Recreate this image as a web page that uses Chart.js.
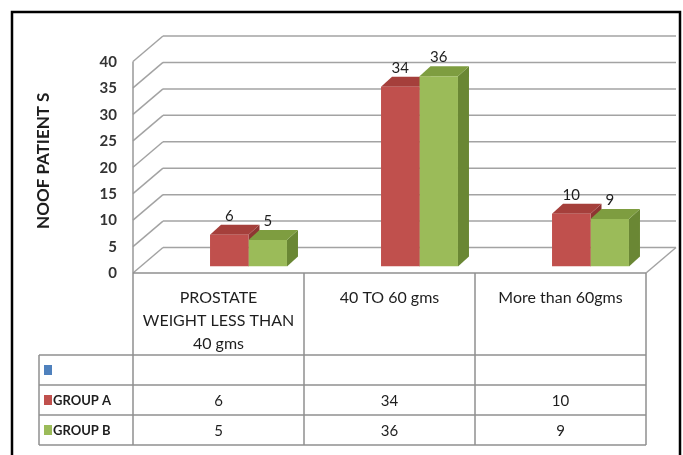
<!DOCTYPE html>
<html>
<head>
<meta charset="utf-8">
<script src="https://cdn.jsdelivr.net/npm/chart.js@4.4.1/dist/chart.umd.min.js"></script>
<style>
  html, body { margin: 0; padding: 0; background: #fff; }
  #wrap { width: 683px; height: 455px; }
</style>
</head>
<body>
<div id="wrap"><canvas id="c" width="683" height="455"></canvas></div>
<script>
// data
const categories = [['PROSTATE', 'WEIGHT LESS THAN', '40 gms'], ['40 TO 60 gms'], ['More than 60gms']];
const seriesNames = ['GROUP A', 'GROUP B'];
const groupA = [6, 34, 10];
const groupB = [5, 36, 9];
const yTickValues = [0, 5, 10, 15, 20, 25, 30, 35, 40];
const yTitle = 'NOOF PATIENT S';

const FONT = 'Lato, "Open Sans", sans-serif';
const TEXT = '#1e1e1e';
const colors = {
    red:   { front: '#c0504d', top: '#a53f3b', side: '#8e3532' },
    green: { front: '#9bbb59', top: '#7e9d40', side: '#6a8734' },
    blue:  '#4f81bd'
};
const seriesColors = [colors.red, colors.green];

// fake 3d geometry
const WALL_DX = 30, WALL_BACK = 19, WALL_FRONT = 6.5;
const BAR_DX = 11, BAR_DY = 10;
const HEADER_H = 82, ROW_H = 30, LEGEND_LEFT = 39;

function poly(ctx, pts, fill) {
    ctx.beginPath();
    ctx.moveTo(pts[0][0], pts[0][1]);
    for (let i = 1; i < pts.length; i++) ctx.lineTo(pts[i][0], pts[i][1]);
    ctx.closePath();
    ctx.fillStyle = fill;
    ctx.fill();
}

function line(ctx, x1, y1, x2, y2) {
    ctx.beginPath();
    ctx.moveTo(x1, y1);
    ctx.lineTo(x2, y2);
    ctx.stroke();
}

const threeD = {
    id: 'threeD',
    beforeDatasetsDraw(chart) {
        const ctx = chart.ctx, a = chart.chartArea, ys = chart.scales.y;
        ctx.save();
        // back wall + side wall
        ctx.strokeStyle = '#a3a3a3';
        ctx.lineWidth = 1.5;
        yTickValues.forEach(v => {
            const y = ys.getPixelForValue(v);
            line(ctx, a.left, y - WALL_BACK, a.right, y - WALL_BACK);
            line(ctx, a.left - WALL_DX, y + WALL_FRONT, a.left, y - WALL_BACK);
        });
        const y0 = ys.getPixelForValue(0);
        line(ctx, a.right - WALL_DX, y0 + WALL_FRONT, a.right, y0 - WALL_BACK);
        ctx.strokeStyle = '#999';
        line(ctx, a.left - WALL_DX, ys.getPixelForValue(40) + WALL_FRONT, a.left - WALL_DX, y0 + WALL_FRONT);

        // bar tops and sides
        chart.data.datasets.forEach((ds, i) => {
            const c = seriesColors[i];
            chart.getDatasetMeta(i).data.forEach(el => {
                const x0 = el.x - el.width / 2, x1 = el.x + el.width / 2;
                const yt = el.y, yb = el.base;
                poly(ctx, [[x1, yt], [x1 + BAR_DX, yt - BAR_DY], [x1 + BAR_DX, yb - BAR_DY], [x1, yb]], c.side);
                poly(ctx, [[x0, yt], [x0 + BAR_DX, yt - BAR_DY], [x1 + BAR_DX, yt - BAR_DY], [x1, yt]], c.top);
            });
        });
        ctx.restore();
    },
    afterDatasetsDraw(chart) {
        const ctx = chart.ctx;
        ctx.save();
        ctx.font = '15px ' + FONT;
        ctx.fillStyle = TEXT;
        ctx.textAlign = 'center';
        ctx.textBaseline = 'bottom';
        chart.data.datasets.forEach((ds, i) => {
            chart.getDatasetMeta(i).data.forEach((el, j) => {
                ctx.fillText(String(ds.data[j]), el.x, el.y - BAR_DY - 1);
            });
        });
        ctx.restore();
    },
    afterDraw(chart) {
        const ctx = chart.ctx, a = chart.chartArea, xs = chart.scales.x, ys = chart.scales.y;
        const catW = (a.right - a.left) / categories.length;
        const top = ys.getPixelForValue(0) + WALL_FRONT;
        const hb = top + HEADER_H;
        const bottom = hb + ROW_H * 3;
        const left = a.left - WALL_DX, right = a.right - WALL_DX;
        ctx.save();
        ctx.strokeStyle = '#8f8f8f';
        ctx.lineWidth = 1.5;
        line(ctx, left, top, right, top);
        for (let r = 0; r <= 3; r++) line(ctx, LEGEND_LEFT, hb + r * ROW_H, right, hb + r * ROW_H);
        line(ctx, LEGEND_LEFT, hb, LEGEND_LEFT, bottom);
        for (let i = 0; i <= categories.length; i++) {
            const x = left + i * catW;
            line(ctx, x, top, x, bottom);
        }

        // header labels
        ctx.fillStyle = TEXT;
        ctx.textAlign = 'center';
        ctx.textBaseline = 'middle';
        ctx.font = '16px ' + FONT;
        categories.forEach((lab, i) => {
            const cx = xs.getPixelForValue(i) - WALL_DX;
            lab.forEach((t, k) => ctx.fillText(t, cx, top + 25 + k * 23));
        });

        // legend rows
        const rows = [{ c: colors.blue, name: '', vals: null },
                      { c: colors.red.front, name: seriesNames[0], vals: groupA },
                      { c: colors.green.front, name: seriesNames[1], vals: groupB }];
        rows.forEach((r, k) => {
            const cy = hb + k * ROW_H + ROW_H / 2;
            ctx.fillStyle = r.c;
            ctx.fillRect(44, cy - 5, 8, 10);
            ctx.fillStyle = TEXT;
            ctx.textAlign = 'left';
            ctx.font = 'bold 13px ' + FONT;
            if (r.name) ctx.fillText(r.name, 53, cy + 1);
            if (r.vals) {
                ctx.textAlign = 'center';
                ctx.font = '15px ' + FONT;
                r.vals.forEach((v, i) => ctx.fillText(String(v), xs.getPixelForValue(i) - WALL_DX, cy + 1));
            }
        });

        // outer frame
        ctx.strokeStyle = '#000';
        ctx.lineWidth = 2.5;
        ctx.strokeRect(12, 12, 668, 470);
        ctx.restore();
    }
};

new Chart(document.getElementById('c'), {
    type: 'bar',
    data: {
        labels: categories,
        datasets: [
            { label: seriesNames[0], data: groupA, backgroundColor: colors.red.front },
            { label: seriesNames[1], data: groupB, backgroundColor: colors.green.front }
        ]
    },
    options: {
        responsive: false,
        animation: false,
        devicePixelRatio: 1,
        layout: { padding: { left: 0, top: 46.5, right: 7, bottom: 188.5 } },
        plugins: { legend: { display: false }, tooltip: { enabled: false } },
        datasets: { bar: { categoryPercentage: 0.45, barPercentage: 1 } },
        scales: {
            x: { display: false },
            y: {
                min: 0, max: 40,
                afterFit(s) { s.width = 163; },
                grid: { display: false, drawTicks: false },
                border: { display: false },
                ticks: { stepSize: 5, padding: 46, labelOffset: 7, color: '#333',
                         font: { family: FONT, size: 15, weight: 'bold' } },
                title: { display: true, text: yTitle, color: TEXT, padding: { top: 33, bottom: 0 },
                         font: { family: FONT, size: 17, weight: 'bold' } }
            }
        }
    },
    plugins: [threeD]
});
</script>
</body>
</html>
